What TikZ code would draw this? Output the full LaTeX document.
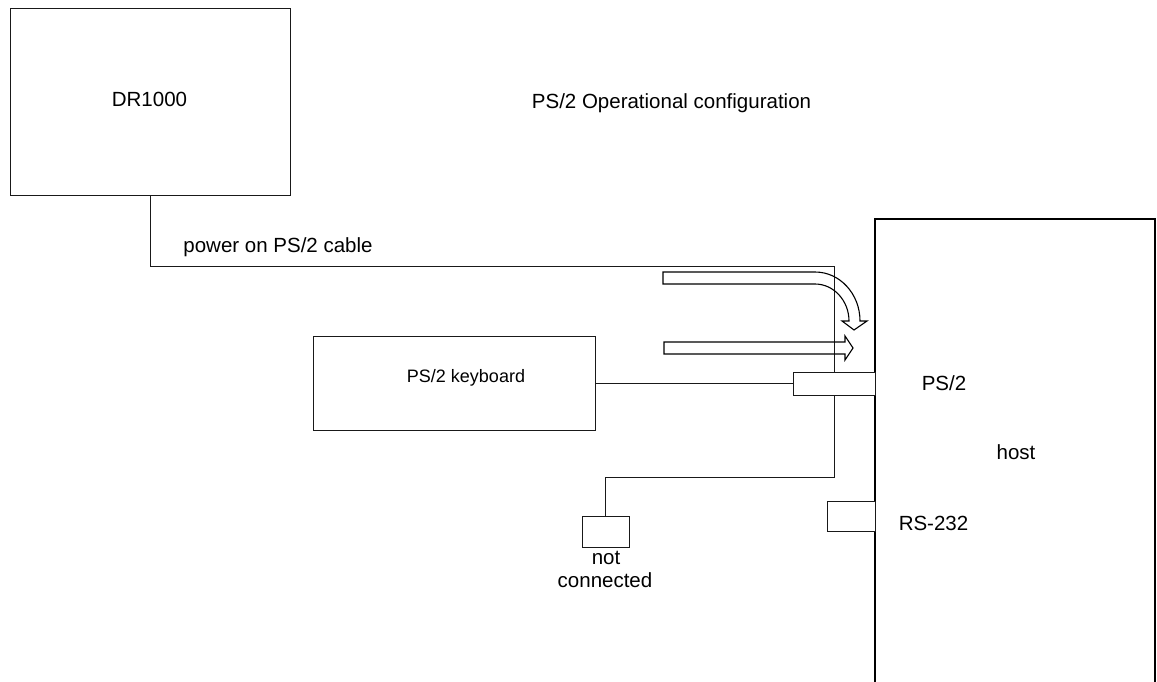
\documentclass[tikz,border=0pt]{standalone}
\usepackage{fontspec}
\setmainfont{Liberation Sans}
\begin{document}
\begin{tikzpicture}[x=1pt,y=-1pt,
  box/.style={draw=black!90, line width=1pt, fill=white, inner sep=0pt},
  lbl/.style={inner sep=0pt, anchor=base, font=\fontsize{20.5}{24}\selectfont},
  small/.style={inner sep=0pt, anchor=base, font=\fontsize{18}{22}\selectfont},
  wire/.style={draw=black!90, line width=1pt},
  hollow/.style={draw=black, line width=1.1pt, line join=miter}]
\useasboundingbox (0,0) rectangle (1157,682);
% boxes
\node[box, minimum width=280pt, minimum height=186pt] (dr) at (150,102) {};
\node[box, draw=black, line width=1.1pt, minimum width=280pt, minimum height=490pt] (host) at (1015,464) {};
\node[box, minimum width=282pt, minimum height=94pt] (kb) at (454,383.5) {};
\node[box, minimum width=47pt, minimum height=31pt] (nc) at (605.5,531.5) {};
% cable
\coordinate (c1) at (150,266);
\coordinate (c2) at (834,266);
\coordinate (c3) at (834,477);
\coordinate (c4) at (605.5,477);
\draw[wire] (dr.south -| c1) -- (c1) -- (c2) -- (c3) -- (c4) -- (nc.north);
% keyboard line and connectors
\node[box, minimum width=82pt, minimum height=23pt] (ps2c) at (834,383.5) {};
\node[box, minimum width=48pt, minimum height=30pt] (rsc) at (851,516) {};
\draw[wire] (kb.east) -- (ps2c.west);
% hollow arrows
\draw[hollow] (663,272) -- (815,272) .. controls (840,272) and (860,294) .. (860,321)
  -- (867,321) -- (854,330) -- (842,321) -- (849,321)
  .. controls (849,301) and (834,284) .. (815,284) -- (663,284) -- cycle;
\draw[hollow] (664,342) -- (845,342) -- (845,336) -- (853,348) -- (845,360)
  -- (845,354) -- (664,354) -- cycle;
% texts
\node[lbl] (t-title) at (671.5,109) {PS/2 Operational configuration};
\node[lbl] (t-dr) at (149.5,107) {DR1000};
\node[lbl] (t-power) at (278,252) {power on PS/2 cable};
\node[small] (t-kb) at (466,382) {PS/2 keyboard};
\node[lbl] (t-ps2) at (944,390) {PS/2};
\node[lbl] (t-host) at (1016,459) {host};
\node[lbl] (t-rs) at (933.5,530) {RS-232};
\node[lbl] (t-not) at (606,564) {not};
\node[lbl] (t-conn) at (605,587) {connected};
\end{tikzpicture}
\end{document}
